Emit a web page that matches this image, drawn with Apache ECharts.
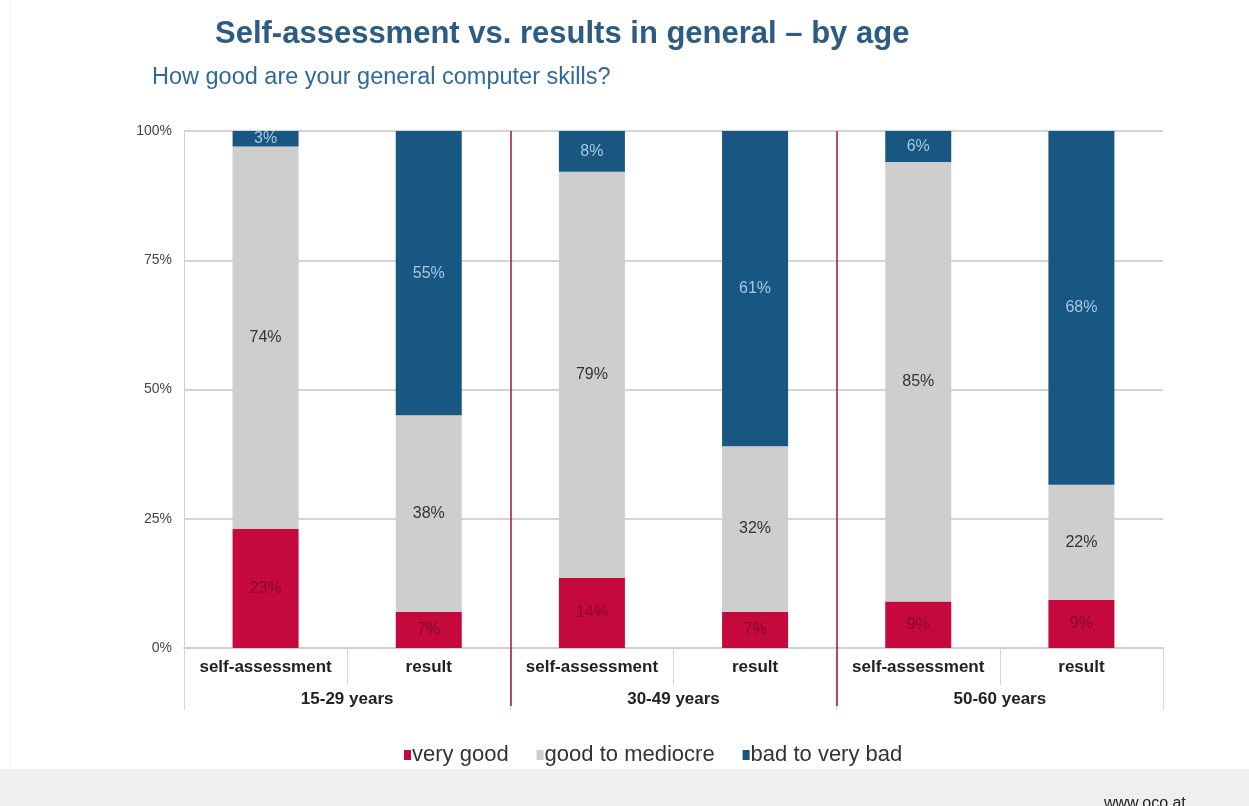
<!DOCTYPE html>
<html><head><meta charset="utf-8">
<script src="https://cdn.jsdelivr.net/npm/echarts@6/dist/echarts.min.js"></script>
<style>html,body{margin:0;padding:0;background:#fff;}#c{width:1249px;height:806px;}</style>
</head><body><div id="c"></div>
<script>
const categories = ['self-assessment','result','self-assessment','result','self-assessment','result'];
const groups = ['15-29 years','30-49 years','50-60 years'];
const veryGood = [23, 7, 13.6, 7, 9, 9.3];
const goodToMediocre = [74, 38, 78.5, 32, 85, 22.3];
const badToVeryBad = [3, 55, 7.9, 61, 6, 68.4];
const yTicks = [0, 25, 50, 75, 100];
const groupBoundaries = [2, 4];
const seriesNames = ['very good','good to mediocre','bad to very bad'];

const chart = echarts.init(document.getElementById('c'));
const font = 'Liberation Sans, Arial, sans-serif';
function lbl(color){
  return {show:true, position:'inside', formatter: p => Math.round(p.value) + '%', color: color, fontSize: 16, fontFamily: font};
}
chart.setOption({
  backgroundColor:'#fff',
  animation:false,
  title:[
    {text:'Self-assessment vs. results in general – by age', left:210, top:14,
     textStyle:{fontFamily:font, fontSize:31, fontWeight:'bold', color:'#2d5b82'}},
    {text:'How good are your general computer skills?', left:147, top:61,
     textStyle:{fontFamily:font, fontSize:23.5, fontWeight:'normal', color:'#2f6a98'}}
  ],
  legend:{
    data: seriesNames, left:399, top:739, icon:'rect', itemWidth:7, itemHeight:10, itemGap:28,
    textStyle:{fontFamily:font, fontSize:22, color:'#333', padding:[0,0,0,-4]}
  },
  graphic:[
    {type:'rect', shape:{x:0,y:769,width:1249,height:37}, style:{fill:'#efefef'}, z:-1},
    {type:'line', shape:{x1:10,y1:0,x2:10,y2:769}, style:{stroke:'#eeeeee', lineWidth:1}},
    {type:'text', left:1104, top:796, style:{text:'www.oco.at', fontFamily:font, fontSize:16, fill:'#222'}}
  ],
  grid:{left:184, right:86, top:131, bottom:158},
  xAxis:[
    {type:'category', data:categories, position:'bottom',
     axisLine:{show:true, lineStyle:{color:'#cfcfcf', width:2}},
     axisTick:{show:true, interval:0, length:37, lineStyle:{color:'#d6d6d6', width:1}},
     axisLabel:{interval:0, margin:11, fontFamily:font, fontSize:17, fontWeight:'bold', color:'#222'}},
    {type:'category', data:groups, position:'bottom',
     axisLine:{show:false},
     axisTick:{show:true, interval:0, length:62, lineStyle:{color:'#d6d6d6', width:1}},
     axisLabel:{interval:0, margin:43, fontFamily:font, fontSize:17, fontWeight:'bold', color:'#222'}},
    {type:'value', min:0, max:categories.length, position:'bottom',
     axisLine:{show:false},
     axisTick:{show:true, customValues:groupBoundaries, length:58, lineStyle:{color:'#a8102e', width:1.5}},
     axisLabel:{show:false},
     splitLine:{show:false}}
  ],
  yAxis:{
    type:'value', min:0, max:100, interval:25,
    axisLine:{show:true, lineStyle:{color:'#d0d0d0', width:1}},
    axisTick:{show:false},
    axisLabel:{formatter: v => yTicks.includes(v) ? v + '%' : '', margin:12, fontFamily:font, fontSize:14, color:'#444'},
    splitLine:{show:true, lineStyle:{color:'#d4d4d4', width:2}}
  },
  series:[
    {name:seriesNames[0], type:'bar', stack:'s', data:veryGood, barWidth:66,
     itemStyle:{color:'#c6093d'}, label:lbl('#86092a')},
    {name:seriesNames[1], type:'bar', stack:'s', data:goodToMediocre, barWidth:66,
     itemStyle:{color:'#cecece'}, label:lbl('#333')},
    {name:seriesNames[2], type:'bar', stack:'s', data:badToVeryBad, barWidth:66,
     itemStyle:{color:'#175781'}, label:lbl('#a9c9e2')},
    {name:'separators', type:'line', xAxisIndex:2, data:[], silent:true,
     markLine:{symbol:'none', silent:true, label:{show:false},
       lineStyle:{color:'#a8102e', width:1.5, type:'solid'},
       data: groupBoundaries.map(v => ({xAxis:v}))}}
  ]
});
</script></body></html>
